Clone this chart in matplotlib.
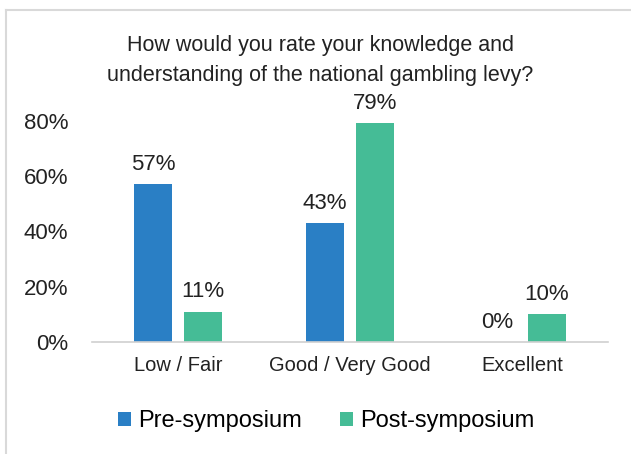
import numpy as np
import matplotlib.pyplot as plt
from matplotlib.lines import Line2D

categories = ["Low / Fair", "Good / Very Good", "Excellent"]
pre = [57, 43, 0]
post = [11, 79, 10]

blue = "#2A7FC5"
green = "#45BC96"

plt.rcParams['font.family'] = ['Liberation Sans', 'DejaVu Sans']

fig = plt.figure(figsize=(6.31, 4.54), dpi=100)
ax = fig.add_axes([0.1458, 0.2467, 0.8177, 0.5483])

x = np.arange(len(categories))
w = 0.22
off = 0.145
b1 = ax.bar(x - off, pre, w, color=blue, label="Pre-symposium")
b2 = ax.bar(x + off, post, w, color=green, label="Post-symposium")

for bars, vals in ((b1, pre), (b2, post)):
    for r, v in zip(bars, vals):
        ax.text(r.get_x() + r.get_width() / 2, v + 3.3, f"{v}%",
                ha="center", va="bottom", fontsize=16, color="#222222")

ax.set_xlim(-0.5, 2.5)
ax.set_ylim(0, 90)
ax.set_yticks([0, 20, 40, 60, 80])
ax.set_yticklabels([f"{t}%" for t in [0, 20, 40, 60, 80]], fontsize=16, color="#222222")
ax.set_xticks(x)
ax.set_xticklabels(categories, fontsize=14.5, color="#222222")
ax.tick_params(axis="both", length=0)
ax.tick_params(axis="y", pad=17)
ax.tick_params(axis="x", pad=10)
for s in ["top", "right", "left"]:
    ax.spines[s].set_visible(False)
ax.spines["bottom"].set_color("#d0d0d0")
ax.spines["bottom"].set_linewidth(1.2)

fig.text(0.508, 0.866, "How would you rate your knowledge and\nunderstanding of the national gambling levy?",
         ha="center", va="center", fontsize=15.5, color="#222222", linespacing=1.55)

fig.legend(handles=[b1, b2], loc="center", bbox_to_anchor=(0.517, 0.072), ncol=2,
           frameon=False, fontsize=17, handlelength=0.55, handleheight=0.55,
           handletextpad=0.3, columnspacing=1.6)

# outer border (top and left edges)
fig.add_artist(Line2D([6 / 631, 6 / 631], [0, 1 - 10 / 454], transform=fig.transFigure,
                      color="#d9d9d9", lw=1.5))
fig.add_artist(Line2D([6 / 631, 1], [1 - 10 / 454, 1 - 10 / 454], transform=fig.transFigure,
                      color="#d9d9d9", lw=1.5))

fig.savefig("out.png", dpi=100)
